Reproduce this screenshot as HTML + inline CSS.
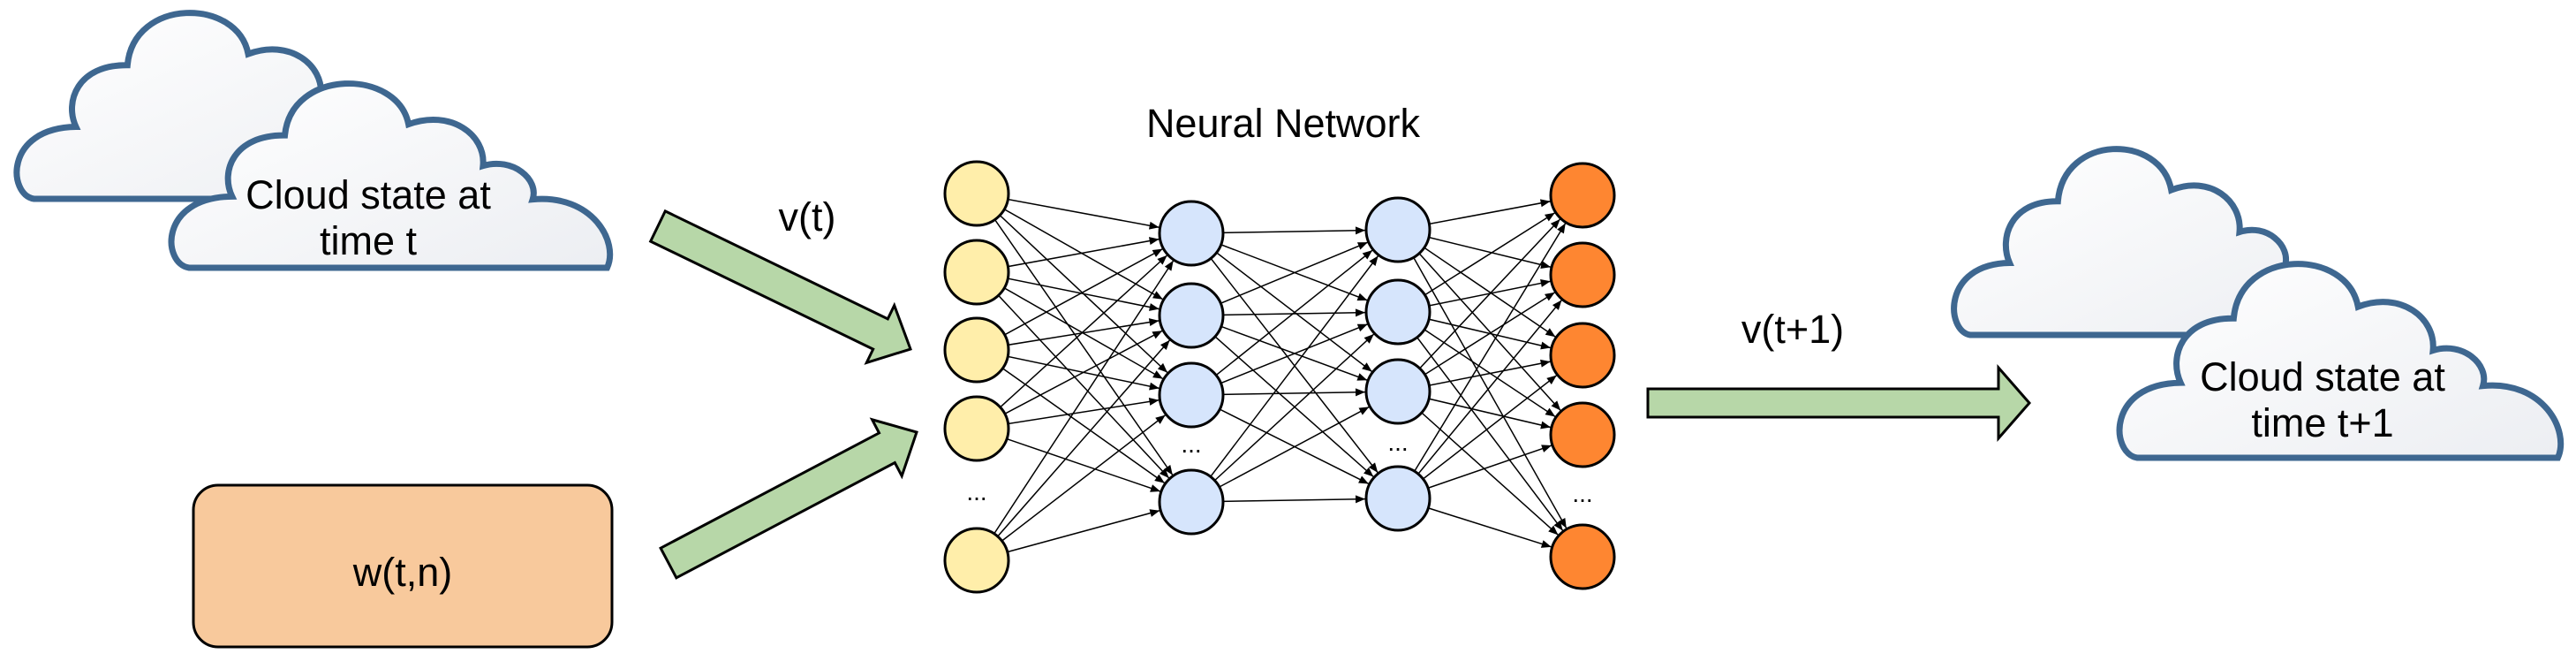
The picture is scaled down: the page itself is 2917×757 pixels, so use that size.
<!DOCTYPE html>
<html><head><meta charset="utf-8"><style>
html,body{margin:0;padding:0;background:#fff;}
svg{display:block;}
text{font-family:"Liberation Sans",Arial,sans-serif;fill:#000;}
</style></head><body>
<svg width="2917" height="757" viewBox="0 0 2917 757" xmlns="http://www.w3.org/2000/svg">
<defs>
<linearGradient id="cg" x1="0" y1="0" x2="1" y2="1">
<stop offset="0" stop-color="#ffffff"/><stop offset="1" stop-color="#eceef2"/>
</linearGradient>
<marker id="ah" markerUnits="userSpaceOnUse" markerWidth="80" markerHeight="20" viewBox="-50 -10 80 20" refX="0" refY="0" orient="auto">
<path d="M-48,-4.5 L-37,0 L-48,4.5 Z" fill="#000"/>
</marker>
</defs>

<!-- left clouds -->
<path d="M5,100 C-1,98 -2,62 14.7,61.4 C12,48 15,28 26.6,28.3 C28,-8 52,-8 54.5,22.3 C64,14 72,28 71.3,44.8 C78,40 84,52 82.5,63 C96,60 102,86 99.3,100 Z" transform="translate(14,14) scale(4.9,2.11)" fill="url(#cg)" stroke="#3e6790" stroke-width="7" vector-effect="non-scaling-stroke"/>
<path d="M5,100 C-1,98 -2,62 14.7,61.4 C12,48 15,28 26.6,28.3 C28,-8 52,-8 54.5,22.3 C64,14 72,28 71.3,44.8 C78,40 84,52 82.5,63 C96,60 102,86 99.3,100 Z" transform="translate(189,94) scale(5.02,2.09)" fill="url(#cg)" stroke="#3e6790" stroke-width="7" vector-effect="non-scaling-stroke"/>
<text x="417" y="236" font-size="45" text-anchor="middle">Cloud state at</text>
<text x="417" y="288" font-size="45" text-anchor="middle">time t</text>

<!-- right clouds -->
<path d="M5,100 C-1,98 -2,62 14.7,61.4 C12,48 15,28 26.6,28.3 C28,-8 52,-8 54.5,22.3 C64,14 72,28 71.3,44.8 C78,40 84,52 82.5,63 C96,60 102,86 99.3,100 Z" transform="translate(2208,168) scale(4.6,2.11)" fill="url(#cg)" stroke="#3e6790" stroke-width="7" vector-effect="non-scaling-stroke"/>
<path d="M5,100 C-1,98 -2,62 14.7,61.4 C12,48 15,28 26.6,28.3 C28,-8 52,-8 54.5,22.3 C64,14 72,28 71.3,44.8 C78,40 84,52 82.5,63 C96,60 102,86 99.3,100 Z" transform="translate(2395,298) scale(5.05,2.2)" fill="url(#cg)" stroke="#3e6790" stroke-width="7" vector-effect="non-scaling-stroke"/>
<text x="2630" y="442" font-size="45" text-anchor="middle">Cloud state at</text>
<text x="2630" y="494" font-size="45" text-anchor="middle">time t+1</text>

<!-- w(t,n) box -->
<rect x="219" y="549" width="474" height="183" rx="28" ry="28" fill="#f8c99c" stroke="#000" stroke-width="3"/>
<text x="456" y="663" font-size="45" text-anchor="middle">w(t,n)</text>

<!-- green arrows -->
<g fill="#b7d7a8" stroke="#000" stroke-width="3" stroke-linejoin="miter">
<polygon points="736.7,273.1 988.7,395.1 981.3,410.4 1031,395 1012.7,345.6 1005.3,360.9 753.3,238.9"/>
<polygon points="765.9,653.8 1013.3,523.5 1021.2,538.6 1038,489 987.6,474.8 995.5,489.9 748.1,620.2"/>
<polygon points="1866,440 2263,440 2263,416 2298,456 2263,496 2263,472 1866,472"/>
</g>
<text x="914" y="261" font-size="45" text-anchor="middle">v(t)</text>
<text x="2030" y="388" font-size="45" text-anchor="middle">v(t+1)</text>
<text x="1453" y="155" font-size="45" text-anchor="middle">Neural Network</text>

<!-- connections -->
<g stroke="#000" stroke-width="1.5" marker-end="url(#ah)">
<line x1="1106" y1="219" x2="1349" y2="264"/><line x1="1106" y1="219" x2="1349" y2="357"/><line x1="1106" y1="219" x2="1349" y2="447"/><line x1="1106" y1="219" x2="1349" y2="568"/>
<line x1="1106" y1="308" x2="1349" y2="264"/><line x1="1106" y1="308" x2="1349" y2="357"/><line x1="1106" y1="308" x2="1349" y2="447"/><line x1="1106" y1="308" x2="1349" y2="568"/>
<line x1="1106" y1="396" x2="1349" y2="264"/><line x1="1106" y1="396" x2="1349" y2="357"/><line x1="1106" y1="396" x2="1349" y2="447"/><line x1="1106" y1="396" x2="1349" y2="568"/>
<line x1="1106" y1="485" x2="1349" y2="264"/><line x1="1106" y1="485" x2="1349" y2="357"/><line x1="1106" y1="485" x2="1349" y2="447"/><line x1="1106" y1="485" x2="1349" y2="568"/>
<line x1="1106" y1="634" x2="1349" y2="264"/><line x1="1106" y1="634" x2="1349" y2="357"/><line x1="1106" y1="634" x2="1349" y2="447"/><line x1="1106" y1="634" x2="1349" y2="568"/>

<line x1="1349" y1="264" x2="1583" y2="260"/><line x1="1349" y1="264" x2="1583" y2="353"/><line x1="1349" y1="264" x2="1583" y2="443"/><line x1="1349" y1="264" x2="1583" y2="564"/>
<line x1="1349" y1="357" x2="1583" y2="260"/><line x1="1349" y1="357" x2="1583" y2="353"/><line x1="1349" y1="357" x2="1583" y2="443"/><line x1="1349" y1="357" x2="1583" y2="564"/>
<line x1="1349" y1="447" x2="1583" y2="260"/><line x1="1349" y1="447" x2="1583" y2="353"/><line x1="1349" y1="447" x2="1583" y2="443"/><line x1="1349" y1="447" x2="1583" y2="564"/>
<line x1="1349" y1="568" x2="1583" y2="260"/><line x1="1349" y1="568" x2="1583" y2="353"/><line x1="1349" y1="568" x2="1583" y2="443"/><line x1="1349" y1="568" x2="1583" y2="564"/>

<line x1="1583" y1="260" x2="1792" y2="221"/><line x1="1583" y1="260" x2="1792" y2="311"/><line x1="1583" y1="260" x2="1792" y2="402"/><line x1="1583" y1="260" x2="1792" y2="492"/><line x1="1583" y1="260" x2="1792" y2="630"/>
<line x1="1583" y1="353" x2="1792" y2="221"/><line x1="1583" y1="353" x2="1792" y2="311"/><line x1="1583" y1="353" x2="1792" y2="402"/><line x1="1583" y1="353" x2="1792" y2="492"/><line x1="1583" y1="353" x2="1792" y2="630"/>
<line x1="1583" y1="443" x2="1792" y2="221"/><line x1="1583" y1="443" x2="1792" y2="311"/><line x1="1583" y1="443" x2="1792" y2="402"/><line x1="1583" y1="443" x2="1792" y2="492"/><line x1="1583" y1="443" x2="1792" y2="630"/>
<line x1="1583" y1="564" x2="1792" y2="221"/><line x1="1583" y1="564" x2="1792" y2="311"/><line x1="1583" y1="564" x2="1792" y2="402"/><line x1="1583" y1="564" x2="1792" y2="492"/><line x1="1583" y1="564" x2="1792" y2="630"/>
</g>

<!-- nodes -->
<g stroke="#000" stroke-width="3">
<g fill="#ffeeaa">
<ellipse cx="1106" cy="219" rx="36" ry="36"/><ellipse cx="1106" cy="308" rx="36" ry="36"/><ellipse cx="1106" cy="396" rx="36" ry="36"/><ellipse cx="1106" cy="485" rx="36" ry="36"/><ellipse cx="1106" cy="634" rx="36" ry="36"/>
</g>
<g fill="#d6e5fc">
<ellipse cx="1349" cy="264" rx="36" ry="36"/><ellipse cx="1349" cy="357" rx="36" ry="36"/><ellipse cx="1349" cy="447" rx="36" ry="36"/><ellipse cx="1349" cy="568" rx="36" ry="36"/>
<ellipse cx="1583" cy="260" rx="36" ry="36"/><ellipse cx="1583" cy="353" rx="36" ry="36"/><ellipse cx="1583" cy="443" rx="36" ry="36"/><ellipse cx="1583" cy="564" rx="36" ry="36"/>
</g>
<g fill="#fe8631">
<ellipse cx="1792" cy="221" rx="36" ry="36"/><ellipse cx="1792" cy="311" rx="36" ry="36"/><ellipse cx="1792" cy="402" rx="36" ry="36"/><ellipse cx="1792" cy="492" rx="36" ry="36"/><ellipse cx="1792" cy="630" rx="36" ry="36"/>
</g>
</g>
<g font-size="28" text-anchor="middle">
<text x="1106" y="566">...</text>
<text x="1349" y="512">...</text>
<text x="1583" y="510">...</text>
<text x="1792" y="568">...</text>
</g>
</svg>
</body></html>
